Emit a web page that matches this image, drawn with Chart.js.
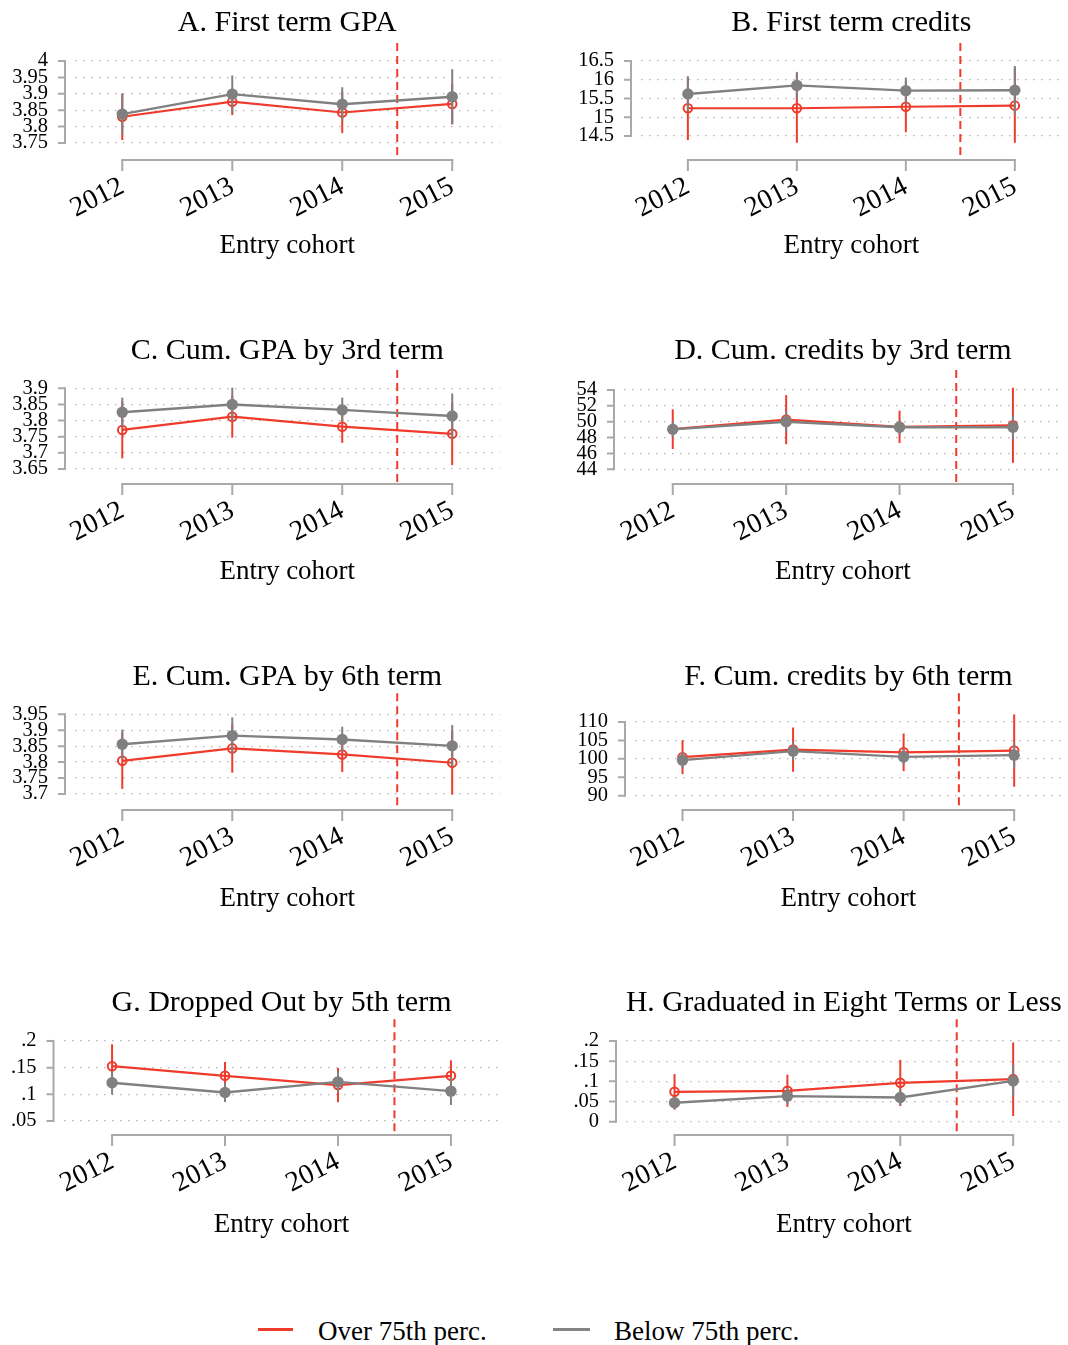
<!DOCTYPE html>
<html>
<head>
<meta charset="utf-8">
<script src="https://cdn.jsdelivr.net/npm/chart.js@4/dist/chart.umd.min.js"></script>
<style>
  html, body { margin: 0; padding: 0; background: #fff; }
  body { width: 1068px; height: 1345px; position: relative; overflow: hidden;
         font-family: 'Liberation Serif', 'DejaVu Serif', serif; color: #000; }
  canvas.panel { position: absolute; }
  .legend { position: absolute; left: 0; top: 1313px; width: 1068px; height: 36px; font-size: 27px; }
  .legend .key { position: absolute; top: 15px; height: 3px; }
  .legend .lab { position: absolute; top: 0; line-height: 36px; white-space: nowrap; }
</style>
</head>
<body>
<div id="panels"></div>
<div class="legend">
  <div class="key" style="left:258px;width:35px;background:#ef3b2c"></div>
  <div class="lab" id="lab0" style="left:318px"></div>
  <div class="key" style="left:553px;width:37px;background:#848484"></div>
  <div class="lab" id="lab1" style="left:614px"></div>
</div>
<script>
// ---- cohorts and reform timing ----
const years = [2012, 2013, 2014, 2015];
const reformYear = 2014.5;
const groupNames = ['Over 75th perc.', 'Below 75th perc.'];
const xAxisTitle = 'Entry cohort';

const panelTitles = [
  'A. First term GPA', 'B. First term credits',
  'C. Cum. GPA by 3rd term', 'D. Cum. credits by 3rd term',
  'E. Cum. GPA by 6th term', 'F. Cum. credits by 6th term',
  'G. Dropped Out by 5th term', 'H. Graduated in Eight Terms or Less'
];

// ---- estimates (mean) and 95% CI half-widths by cohort ----
const gpa1Over = [3.830, 3.876, 3.843, 3.869];
const gpa1OverCI = [0.071, 0.041, 0.063, 0.062];
const gpa1Below = [3.838, 3.899, 3.868, 3.891];
const gpa1BelowCI = [0.062, 0.057, 0.052, 0.084];

const cred1Over = [15.24, 15.24, 15.28, 15.31];
const cred1OverCI = [0.85, 0.92, 0.68, 0.99];
const cred1Below = [15.62, 15.85, 15.71, 15.72];
const cred1BelowCI = [0.46, 0.36, 0.35, 0.65];

const gpa3Over = [3.771, 3.812, 3.781, 3.759];
const gpa3OverCI = [0.088, 0.065, 0.050, 0.097];
const gpa3Below = [3.826, 3.850, 3.833, 3.814];
const gpa3BelowCI = [0.045, 0.052, 0.038, 0.070];

const cred3Over = [49.06, 50.26, 49.35, 49.55];
const cred3OverCI = [2.5, 3.1, 2.04, 4.73];
const cred3Below = [49.04, 50.0, 49.3, 49.3];
const cred3BelowCI = [1.0, 1.3, 0.9, 1.5];

const gpa6Over = [3.804, 3.843, 3.824, 3.798];
const gpa6OverCI = [0.088, 0.076, 0.055, 0.100];
const gpa6Below = [3.856, 3.883, 3.871, 3.851];
const gpa6BelowCI = [0.046, 0.057, 0.040, 0.065];

const cred6Over = [100.45, 102.5, 101.77, 102.25];
const cred6OverCI = [4.6, 6.0, 5.1, 9.8];
const cred6Below = [99.65, 102.08, 100.54, 101.0];
const cred6BelowCI = [2.2, 2.5, 2.2, 3.5];

const dropOver = [0.1527, 0.1347, 0.1173, 0.1347];
const dropOverCI = [0.041, 0.026, 0.032, 0.029];
const dropBelow = [0.1216, 0.1036, 0.1234, 0.1060];
const dropBelowCI = [0.022, 0.018, 0.020, 0.026];

const gradOver = [0.074, 0.0766, 0.0963, 0.1054];
const gradOverCI = [0.044, 0.040, 0.057, 0.091];
const gradBelow = [0.047, 0.0635, 0.0602, 0.1012];
const gradBelowCI = [0.016, 0.020, 0.020, 0.039];

// ---- y-axis tick labels and axis ranges ----
const ticksGpa1 = [3.75, 3.8, 3.85, 3.9, 3.95, 4];
const ticksCred1 = [14.5, 15, 15.5, 16, 16.5];
const ticksGpa3 = [3.65, 3.7, 3.75, 3.8, 3.85, 3.9];
const ticksCred3 = [44, 46, 48, 50, 52, 54];
const ticksGpa6 = [3.7, 3.75, 3.8, 3.85, 3.9, 3.95];
const ticksCred6 = [90, 95, 100, 105, 110];
const ticksDrop = [0.05, 0.1, 0.15, 0.2];
const ticksGrad = [0, 0.05, 0.1, 0.15, 0.2];

const yMin = [3.698, 13.86, 3.6035, 42.15, 3.650, 86.14, 0.0239, -0.0328];
const yMax = [4.055, 16.98, 3.9567, 56.52, 4.0156, 117.76, 0.2405, 0.2536];
const xMin = 2011.57, xMax = 2015.43;

const panels = [
  [gpa1Over, gpa1OverCI, gpa1Below, gpa1BelowCI, ticksGpa1],
  [cred1Over, cred1OverCI, cred1Below, cred1BelowCI, ticksCred1],
  [gpa3Over, gpa3OverCI, gpa3Below, gpa3BelowCI, ticksGpa3],
  [cred3Over, cred3OverCI, cred3Below, cred3BelowCI, ticksCred3],
  [gpa6Over, gpa6OverCI, gpa6Below, gpa6BelowCI, ticksGpa6],
  [cred6Over, cred6OverCI, cred6Below, cred6BelowCI, ticksCred6],
  [dropOver, dropOverCI, dropBelow, dropBelowCI, ticksDrop],
  [gradOver, gradOverCI, gradBelow, gradBelowCI, ticksGrad]
];

// ---- page geometry ----
const colLeft = [0, 534];
const panelW = 534, panelH = 290;
const plotRight = [499.5, 1064];
const plotLeft = [75, 641, 75, 624, 75, 635, 63.5, 626];
const rowTitleY = [22, 350, 676, 1002];
const rowPlotTop = [43, 370, 693, 1019];
const rowPlotBottom = [160, 484, 810, 1135];
const rowAxisTitleY = [246, 572, 899, 1225];

const RED = '#ef3b2c';
const GRAY = '#808080';
const AXIS = '#a9a9a9';
const FONT = "'Liberation Serif', 'DejaVu Serif', serif";

document.getElementById('lab0').textContent = groupNames[0];
document.getElementById('lab1').textContent = groupNames[1];

// Stata-style number labels: no leading zero
const fmt = v => {
  const s = String(+v.toFixed(4));
  return s.replace(/^0\./, '.').replace(/^-0\./, '-.');
};

// Draws the reform line, the detached axes and the CI spikes
const stataFrame = {
  id: 'stataFrame',
  beforeDatasetsDraw(chart) {
    const { ctx, chartArea: a, scales: { x, y } } = chart;
    const yt = chart.options.scales.y.tickValues;
    ctx.save();
    // reform cutoff
    const px = x.getPixelForValue(reformYear);
    ctx.strokeStyle = RED; ctx.lineWidth = 2; ctx.setLineDash([8, 5]);
    ctx.beginPath(); ctx.moveTo(px, a.top); ctx.lineTo(px, a.bottom); ctx.stroke();
    ctx.setLineDash([]);
    // y axis, offset to the left of the plot region
    ctx.strokeStyle = AXIS; ctx.lineWidth = 2; ctx.lineCap = 'butt';
    const ax = a.left - 10;
    const yTop = y.getPixelForValue(yt[yt.length - 1]);
    const yBot = y.getPixelForValue(yt[0]);
    ctx.beginPath(); ctx.moveTo(ax, yTop - 1); ctx.lineTo(ax, yBot + 1); ctx.stroke();
    ctx.beginPath();
    yt.forEach(v => { const py = y.getPixelForValue(v); ctx.moveTo(ax, py); ctx.lineTo(ax - 7, py); });
    ctx.stroke();
    // x axis, spanning the cohorts only
    const xl = x.getPixelForValue(years[0]), xr = x.getPixelForValue(years[years.length - 1]);
    ctx.beginPath(); ctx.moveTo(xl - 1, a.bottom); ctx.lineTo(xr + 1, a.bottom); ctx.stroke();
    ctx.beginPath();
    years.forEach(v => { const p = x.getPixelForValue(v); ctx.moveTo(p, a.bottom); ctx.lineTo(p, a.bottom + 11); });
    ctx.stroke();
    ctx.restore();
  },
  beforeDatasetDraw(chart, args) {
    const ds = chart.data.datasets[args.index];
    const { ctx, scales: { x, y } } = chart;
    ctx.save();
    ctx.strokeStyle = ds.borderColor; ctx.lineWidth = 2;
    ds.data.forEach((d, i) => {
      const p = x.getPixelForValue(d.x);
      ctx.beginPath();
      ctx.moveTo(p, y.getPixelForValue(d.y - ds.ci[i]));
      ctx.lineTo(p, y.getPixelForValue(d.y + ds.ci[i]));
      ctx.stroke();
    });
    ctx.restore();
  }
};

const host = document.getElementById('panels');
panels.forEach((pn, k) => {
  const [over, overCI, below, belowCI, yTicks] = pn;
  const row = Math.floor(k / 2), col = k % 2;
  const top = rowTitleY[row] - 22;
  const cv = document.createElement('canvas');
  cv.className = 'panel';
  cv.width = panelW; cv.height = panelH;
  cv.style.left = colLeft[col] + 'px';
  cv.style.top = top + 'px';
  cv.style.width = panelW + 'px'; cv.style.height = panelH + 'px';
  host.appendChild(cv);

  const chartTop = rowPlotTop[row] - top;
  const chartBottom = rowPlotBottom[row] - top;
  const axisTitleBottom = rowAxisTitleY[row] - top + 13.5;
  const leftW = plotLeft[k] - colLeft[col];
  const rightPad = colLeft[col] + panelW - plotRight[col];

  new Chart(cv, {
    type: 'line',
    data: {
      datasets: [
        {
          label: groupNames[0],
          data: years.map((yr, i) => ({ x: yr, y: over[i] })),
          ci: overCI,
          borderColor: RED, borderWidth: 2.2,
          pointRadius: 4.3, pointBorderWidth: 2,
          pointBorderColor: RED, pointBackgroundColor: 'rgba(255,255,255,0)',
          tension: 0, fill: false, order: 2
        },
        {
          label: groupNames[1],
          data: years.map((yr, i) => ({ x: yr, y: below[i] })),
          ci: belowCI,
          borderColor: GRAY, borderWidth: 2.4,
          pointRadius: 5.7, pointBorderWidth: 0,
          pointBorderColor: GRAY, pointBackgroundColor: GRAY,
          tension: 0, fill: false, order: 1
        }
      ]
    },
    options: {
      responsive: false,
      animation: false,
      devicePixelRatio: 1,
      layout: { padding: { top: 0, left: 0, right: rightPad, bottom: panelH - axisTitleBottom } },
      plugins: {
        legend: { display: false },
        tooltip: { enabled: false },
        title: {
          display: true, text: panelTitles[k], fullSize: false,
          color: '#000', font: { family: FONT, size: 30, weight: 'normal', lineHeight: 1 },
          padding: { top: 8, bottom: chartTop - 38 }
        }
      },
      scales: {
        x: {
          type: 'linear', min: xMin, max: xMax,
          afterBuildTicks: s => { s.ticks = years.map(v => ({ value: v })); },
          afterFit: s => { s.height = axisTitleBottom - chartBottom; },
          grid: { display: false },
          border: { display: false },
          ticks: {
            autoSkip: false, minRotation: 27, maxRotation: 27, padding: 2,
            color: '#000', font: { family: FONT, size: 28 },
            callback: v => String(v)
          },
          title: {
            display: true, text: xAxisTitle, color: '#000',
            font: { family: FONT, size: 27, lineHeight: 1 },
            padding: { top: 0, bottom: 0 }
          }
        },
        y: {
          type: 'linear', min: yMin[k], max: yMax[k], bounds: 'data',
          tickValues: yTicks,
          afterBuildTicks: s => { s.ticks = yTicks.map(v => ({ value: v })); },
          afterFit: s => { s.width = leftW; },
          grid: { display: true, drawTicks: false, color: '#b4b4b4', lineWidth: 1.3 },
          border: { display: false, dash: [1.5, 6.5] },
          ticks: {
            autoSkip: false, padding: 27, color: '#000', font: { family: FONT, size: 20.5 },
            callback: v => fmt(v)
          }
        }
      }
    },
    plugins: [stataFrame]
  });
});
</script>
</body>
</html>
